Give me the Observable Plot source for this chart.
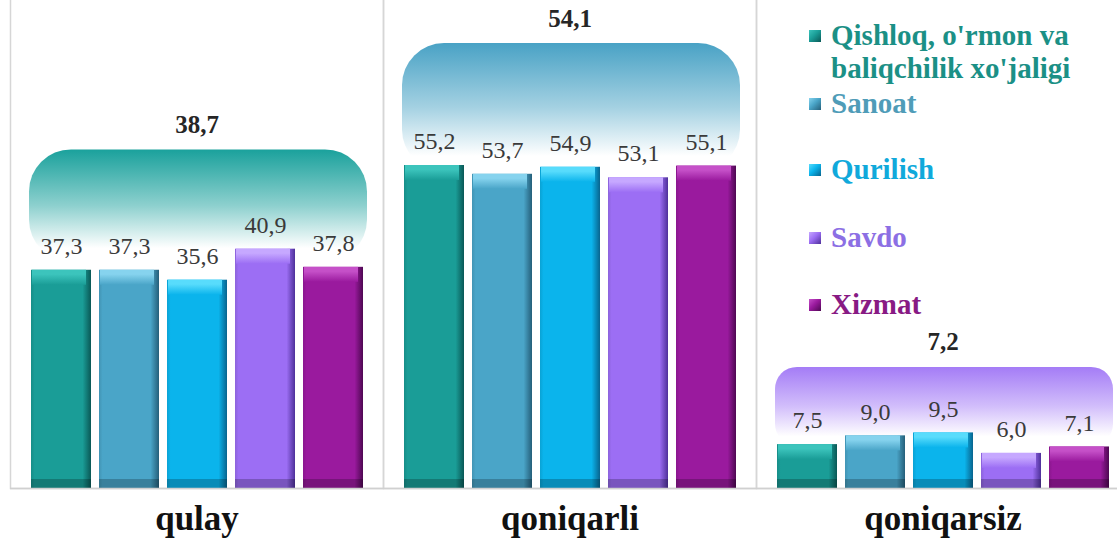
<!DOCTYPE html>
<html>
<head>
<meta charset="utf-8">
<script src="https://cdn.jsdelivr.net/npm/d3@7"></script>
<script src="https://cdn.jsdelivr.net/npm/@observablehq/plot@0.6"></script>
<style>
  html, body { margin: 0; padding: 0; background: #fff; }
  #wrap { position: relative; width: 1117px; height: 543px; overflow: hidden; }
  #legend { position: absolute; left: 809px; top: 19px; font-family: "Liberation Serif", "Times New Roman", "DejaVu Serif", serif; font-weight: bold; font-size: 29px; line-height: 33px; }
  #legend .item { position: absolute; left: 0; white-space: nowrap; }
  #legend .sw { position: absolute; left: 0; top: 11px; width: 12px; height: 12px; }
  #legend .lab { position: absolute; left: 22px; top: 0; }
</style>
</head>
<body>
<div id="wrap"><div id="legend"></div></div>
<script>
// ---- data ----
const groups = ["qulay", "qoniqarli", "qoniqarsiz"];
const series = ["Qishloq, o'rmon va baliqchilik xo'jaligi", "Sanoat", "Qurilish", "Savdo", "Xizmat"];
const legendLines = [["Qishloq, o'rmon va", "baliqchilik xo'jaligi"], ["Sanoat"], ["Qurilish"], ["Savdo"], ["Xizmat"]];
const qulay = [37.3, 37.3, 35.6, 40.9, 37.8];
const qoniqarli = [55.2, 53.7, 54.9, 53.1, 55.1];
const qoniqarsiz = [7.5, 9.0, 9.5, 6.0, 7.1];
const averages = [38.7, 54.1, 7.2];

// ---- styles ----
const barBase  = ["#1a9d97", "#4aa5c8", "#0bb4ec", "#9c6ef4", "#9a1a9e"];
const barDark  = ["#0a5856", "#255f7a", "#08648e", "#4e309a", "#4e0852"];
const barLight = ["#3cc4bc", "#86d3ee", "#58dcfc", "#c6a8ff", "#c550c8"];
const legendText = ["#1b9086", "#4f9cb8", "#10a9db", "#8c6fe4", "#881a84"];
const bubbleColors = ["#1aa19c", "#49a2c5", "#a47cf6"];
const legendTops = [0, 68, 134, 202, 269];

const fmt = v => v.toFixed(1).replace(".", ",");
const valuesByGroup = [qulay, qoniqarli, qoniqarsiz];
const rows = [];
groups.forEach((g, gi) => series.forEach((s, si) => rows.push({group: g, series: s, si, value: valuesByGroup[gi][si]})));
const bubbles = groups.map((g, gi) => ({group: g, gi, avg: averages[gi], top: 1.18 * averages[gi] + 12.2}));

const serif = "'Liberation Serif', 'Times New Roman', 'DejaVu Serif', serif";

const plot = Plot.plot({
  width: 1117,
  height: 543,
  marginTop: 0,
  marginBottom: 55,
  marginLeft: 10,
  marginRight: 0,
  style: {background: "transparent", overflow: "hidden", fontFamily: serif},
  fx: {domain: groups, range: [9.5, 1128.5], padding: 0, axis: null, label: null},
  x: {domain: series, paddingInner: 0.12, paddingOuter: 0.3, axis: null},
  y: {domain: [0, 83.4], axis: null},
  color: {type: "identity"},
  marks: [
    Plot.frame({stroke: "#d6d6d6", strokeWidth: 1.5, insetTop: -60}),
    Plot.rect(bubbles.filter(d => d.gi < 2), {fx: "group", y1: "top", y2: "avg", fill: d => `url(#bub${d.gi})`, insetLeft: 19, insetRight: 16, rx: 42}),
    Plot.rect(bubbles.filter(d => d.gi === 2), {fx: "group", y1: "top", y2: "avg", fill: d => `url(#bub${d.gi})`, insetLeft: 19, insetRight: 16, rx: 22}),
    Plot.text(bubbles, {fx: "group", y: "top", text: d => fmt(d.avg), dy: -25, frameAnchor: "middle", fontSize: 25, fontWeight: "bold", fontFamily: serif, fill: "#262626"}),
    Plot.barY(rows, {fx: "group", x: "series", y: "value", fill: d => `url(#bar${d.si})`}),
    Plot.barY(rows, {fx: "group", x: "series", y1: "value", y2: "value", insetBottom: -15, insetLeft: 1, insetRight: 5, fill: d => `url(#top${d.si})`}),
    Plot.barY(rows, {fx: "group", x: "series", y1: 0, y2: 0, insetTop: -9, fill: "#000", fillOpacity: 0.22}),
    Plot.ruleY([0], {stroke: "#d0d0d0", strokeWidth: 1.5}),
    Plot.text(rows, {fx: "group", x: "series", y: "value", text: d => fmt(d.value), dy: -24, fontSize: 24, fontFamily: serif, fill: "#3a3a3a"}),
    Plot.axisFx({anchor: "bottom", tickSize: 0, tickPadding: 17, fontSize: 35, fontWeight: "bold", fontFamily: serif, fill: "#111", label: null})
  ]
});

// gradient definitions
const svg = d3.select(plot);
const defs = svg.insert("defs", ":first-child");
barBase.forEach((c, i) => {
  const g = defs.append("linearGradient").attr("id", `bar${i}`).attr("x1", 0).attr("x2", 1).attr("y1", 0).attr("y2", 0);
  g.append("stop").attr("offset", 0).attr("stop-color", d3.color(c).darker(0.3));
  g.append("stop").attr("offset", 0.06).attr("stop-color", c);
  g.append("stop").attr("offset", 0.86).attr("stop-color", c);
  g.append("stop").attr("offset", 1).attr("stop-color", barDark[i]);
  const t = defs.append("linearGradient").attr("id", `top${i}`).attr("x1", 0).attr("x2", 0).attr("y1", 0).attr("y2", 1);
  t.append("stop").attr("offset", 0).attr("stop-color", barLight[i]);
  t.append("stop").attr("offset", 0.3).attr("stop-color", barLight[i]);
  t.append("stop").attr("offset", 1).attr("stop-color", c);
});
bubbleColors.forEach((c, i) => {
  const g = defs.append("linearGradient").attr("id", `bub${i}`).attr("x1", 0).attr("x2", 0).attr("y1", 0).attr("y2", 1);
  g.append("stop").attr("offset", 0).attr("stop-color", c);
  g.append("stop").attr("offset", 0.5).attr("stop-color", d3.interpolateRgb(c, "#ffffff")(0.5));
  g.append("stop").attr("offset", 0.88).attr("stop-color", "#ffffff");
  g.append("stop").attr("offset", 1).attr("stop-color", "#ffffff");
});

document.getElementById("wrap").prepend(plot);

// legend
const legend = d3.select("#legend");
series.forEach((s, i) => {
  const item = legend.append("div").attr("class", "item").style("top", legendTops[i] + "px");
  item.append("div").attr("class", "sw")
    .style("background", `linear-gradient(135deg, ${barLight[i]} 0%, ${barBase[i]} 45%, ${barDark[i]} 100%)`);
  const lab = item.append("div").attr("class", "lab").style("color", legendText[i]);
  legendLines[i].forEach(line => lab.append("div").text(line));
});
</script>
</body>
</html>
